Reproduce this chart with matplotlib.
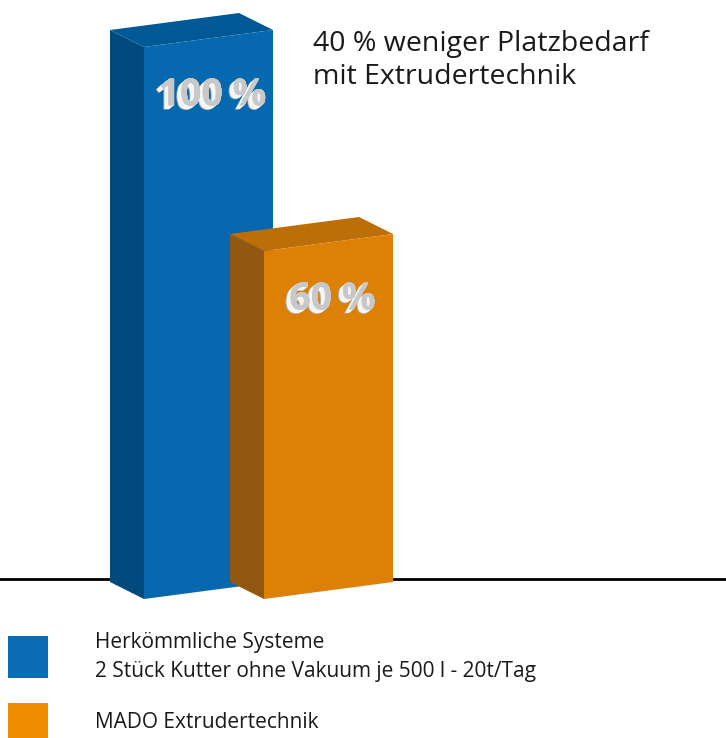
import matplotlib.pyplot as plt
import matplotlib.patheffects as pe
from matplotlib.patches import Polygon, Rectangle

# data
categories = ["Herkömmliche Systeme\n2 Stück Kutter ohne Vakuum je 500 l - 20t/Tag",
              "MADO Extrudertechnik"]
values = [100, 60]
value_labels = ["100 %", "60 %"]
title = "40 % weniger Platzbedarf\nmit Extrudertechnik"

front_colors = ["#0668ae", "#dc8106"]
side_colors = ["#004a7e", "#925710"]
top_colors = ["#005994", "#bc6e08"]
legend_colors = ["#0a6cb5", "#f08c00"]

# layout (pixels of the 726x738 canvas)
W, H = 726, 738
PX = 5.1          # pixels per percent
ZERO = 557        # pixel row of value 0
BASE = -(599 - ZERO) / PX   # bars start a bit below zero (perspective floor)
bar_x = [144, 264]
wvec = (129, 17 / PX)    # front face bottom edge
dvec = (-34, 17 / PX)    # depth, towards the back

fig = plt.figure(figsize=(W / 100, H / 100), dpi=100)
ax = fig.add_axes([0, 0, 1, 1])
ax.set_xlim(0, W)
ax.set_ylim(-(H - ZERO) / PX, ZERO / PX)
ax.axis('off')

# floor line
ax.axhline((ZERO - 579) / PX, color='black', lw=2, zorder=0)

# extruded look for the value labels
label_fx = [pe.withSimplePatchShadow(offset=(-k * 0.6, -k * 0.5),
                                     shadow_rgbFace='#a9a9a9' if k == 6 else '#f5f5f5',
                                     alpha=1)
            for k in range(6, 0, -1)] + [pe.Normal()]

for i, (x0, v) in enumerate(zip(bar_x, values)):
  wx, wy = wvec
  dx, dy = dvec
  b = BASE
  front = [(x0, b), (x0 + wx, b + wy), (x0 + wx, v + wy), (x0, v)]
  side = [(x0, b), (x0 + dx, b + dy), (x0 + dx, v + dy), (x0, v)]
  top = [(x0, v), (x0 + wx, v + wy), (x0 + wx + dx, v + wy + dy), (x0 + dx, v + dy)]
  z = 2 + i * 3
  ax.add_patch(Polygon(side, closed=True, color=side_colors[i], lw=0, zorder=z))
  ax.add_patch(Polygon(top, closed=True, color=top_colors[i], lw=0, zorder=z))
  ax.add_patch(Polygon(front, closed=True, color=front_colors[i], lw=0, zorder=z + 1))

  lx = x0 + wx / 2 + 4
  ly = v + wy / 2 - 57 / PX
  ax.text(lx, ly, value_labels[i], ha='center', va='center', fontsize=27,
          fontweight='bold', family='Open Sans', color='#c8c8c8',
          path_effects=label_fx, zorder=z + 2)

# title
fig.text(313 / W, 1 - 30 / H, title, ha='left', va='top', fontsize=20.5,
         family='Open Sans', linespacing=1.25, color='#1a1a1a')

# legend
legend_y = [(636, 678), (703, 745)]
text_y = [657, 722]
for i, lab in enumerate(categories):
  y0, y1 = legend_y[i]
  fig.add_artist(Rectangle((8 / W, 1 - y1 / H), 40 / W, (y1 - y0) / H,
                           transform=fig.transFigure, color=legend_colors[i], lw=0))
  fig.text(95 / W, 1 - text_y[i] / H, lab, ha='left', va='center', fontsize=15,
           family='Open Sans', linespacing=1.5, color='#1a1a1a')

fig.savefig('out.png', dpi=100)
